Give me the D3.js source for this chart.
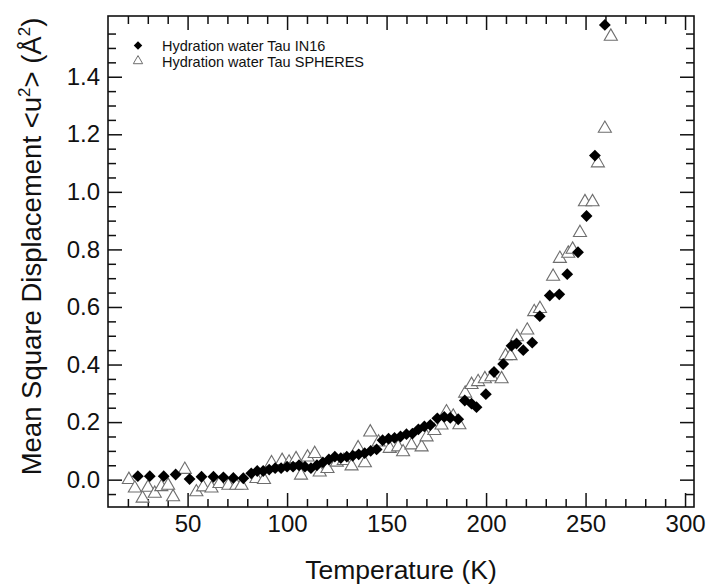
<!DOCTYPE html>
<html>
<head>
<meta charset="utf-8">
<script src="https://cdn.jsdelivr.net/npm/d3@7"></script>
<style>
  body { margin: 0; background: #fff; }
  text { font-family: "Liberation Sans", Arial, Helvetica, sans-serif; fill: #111; }
</style>
</head>
<body>
<div id="chart"></div>
<script>
// IN16 series (filled diamonds)
var in16Temp = [25, 31, 38, 44, 51, 57, 63, 68, 73, 78, 82, 85, 88, 91, 94, 97, 100, 103, 106, 109,
  112, 115, 118, 121, 124, 127, 130, 133, 136, 139, 142, 145, 148, 151, 154, 157, 160, 163, 166,
  169, 172, 175.5, 179, 182, 186, 189.3, 192.7, 195.2, 199.9, 204, 208.6, 212.8, 215.3, 218.7,
  223.2, 227, 232, 236.8, 240.8, 246.2, 250.5, 254.7, 259.7];
var in16Msd = [0.012, 0.012, 0.012, 0.018, 0.002, 0.01, 0.01, 0.008, 0.006, 0.005, 0.022, 0.03, 0.03,
  0.035, 0.04, 0.04, 0.045, 0.045, 0.05, 0.045, 0.04, 0.05, 0.06, 0.07, 0.08, 0.075, 0.08, 0.083,
  0.088, 0.092, 0.1, 0.105, 0.137, 0.142, 0.145, 0.15, 0.158, 0.16, 0.175, 0.185, 0.19, 0.213,
  0.218, 0.215, 0.21, 0.275, 0.264, 0.252, 0.297, 0.374, 0.402, 0.465, 0.473, 0.45, 0.476, 0.568,
  0.64, 0.644, 0.714, 0.79, 0.916, 1.126, 1.58];

// SPHERES series (open triangles)
var spheresTemp = [20.5, 23.5, 27.4, 30.1, 33.5, 36.8, 40.2, 42.7, 48.6, 54.4, 57.8, 62, 66, 70.5,
  74.5, 77.1, 84.6, 88.4, 92.2, 97.5, 101, 104.5, 107, 110.3, 113.9, 116.4, 120.3, 125, 128.5,
  132.4, 135.7, 139.1, 141.8, 146, 151.6, 155.8, 158.3, 162.5, 167.6, 170.1, 174, 177.6, 180.1,
  183.5, 186.6, 189.5, 192.7, 196, 199.4, 202.7, 207.8, 209.8, 212.3, 215.5, 220.7, 224.2, 227.1,
  233.7, 237.1, 241.3, 243.5, 247.2, 249.7, 253.5, 256.2, 259.7, 262.7];
var spheresMsd = [0.0, -0.03, -0.065, -0.027, -0.048, -0.025, -0.02, -0.06, 0.035, -0.043, -0.026,
  -0.03, -0.014, -0.02, -0.02, -0.02, 0.003, 0.0, 0.058, 0.066, 0.06, 0.072, 0.015, 0.078, 0.09,
  0.026, 0.038, 0.06, 0.066, 0.047, 0.11, 0.058, 0.165, 0.13, 0.108, 0.113, 0.096, 0.12, 0.113,
  0.148, 0.17, 0.189, 0.235, 0.22, 0.19, 0.3, 0.33, 0.34, 0.35, 0.357, 0.35, 0.43, 0.43, 0.496,
  0.519, 0.583, 0.594, 0.706, 0.768, 0.786, 0.8, 0.858, 0.965, 0.965, 1.1, 1.22, 1.54];

var xTicks = [50, 100, 150, 200, 250, 300];
var yTicks = [0.0, 0.2, 0.4, 0.6, 0.8, 1.0, 1.2, 1.4];
var legendNames = ["Hydration water Tau IN16", "Hydration water Tau SPHERES"];

// set the dimensions and margins of the graph
var margin = {top: 16, right: 15, bottom: 79, left: 108},
    width = 709 - margin.left - margin.right,
    height = 586 - margin.top - margin.bottom;

// set the ranges
var x = d3.scaleLinear().domain([10, 304.5]).range([0, width]);
var y = d3.scaleLinear().domain([-0.095, 1.611]).range([height, 0]);

var svg = d3.select("#chart").append("svg")
    .attr("width", width + margin.left + margin.right)
    .attr("height", height + margin.top + margin.bottom)
  .append("g")
    .attr("transform", "translate(" + margin.left + "," + margin.top + ")");

var xMinor = d3.range(20, 301, 10).filter(function(d) { return xTicks.indexOf(d) < 0; });
var yMinor = d3.range(-0.05, 1.6, 0.05).filter(function(d) {
  return yTicks.every(function(t) { return Math.abs(t - d) > 1e-6; });
});

// axes: ticks point inward on all four sides
function drawAxis(axis, tx, ty) {
  var g = svg.append("g")
      .attr("transform", "translate(" + tx + "," + ty + ")")
      .call(axis);
  g.select(".domain").remove();
  g.selectAll(".tick line").attr("stroke", "#111").attr("stroke-width", 1.5);
  g.selectAll("text").style("font-size", "24px").attr("fill", "#111");
  return g;
}

drawAxis(d3.axisBottom(x).tickValues(xTicks).tickSize(-14).tickPadding(8).tickFormat(d3.format("d")), 0, height);
drawAxis(d3.axisBottom(x).tickValues(xMinor).tickSize(-8).tickFormat(""), 0, height);
drawAxis(d3.axisTop(x).tickValues(xTicks).tickSize(-14).tickFormat(""), 0, 0);
drawAxis(d3.axisTop(x).tickValues(xMinor).tickSize(-8).tickFormat(""), 0, 0);
drawAxis(d3.axisLeft(y).tickValues(yTicks).tickSize(-14).tickPadding(8).tickFormat(d3.format(".1f")), 0, 0);
drawAxis(d3.axisLeft(y).tickValues(yMinor).tickSize(-8).tickFormat(""), 0, 0);
drawAxis(d3.axisRight(y).tickValues(yTicks).tickSize(-14).tickFormat(""), width, 0);
drawAxis(d3.axisRight(y).tickValues(yMinor).tickSize(-8).tickFormat(""), width, 0);

// frame
svg.append("rect")
    .attr("width", width)
    .attr("height", height)
    .attr("fill", "none")
    .attr("stroke", "#111")
    .attr("stroke-width", 1.6);

var triangle = d3.symbol().type(d3.symbolTriangle).size(74);
var diamond = d3.symbol().type(d3.symbolSquare).size(70);

// SPHERES triangles
var spheres = spheresTemp.map(function(t, i) { return {t: t, v: spheresMsd[i]}; });
svg.append("g").selectAll("path")
    .data(spheres)
  .enter().append("path")
    .attr("d", triangle)
    .attr("transform", function(d) { return "translate(" + x(d.t) + "," + y(d.v) + ")"; })
    .attr("fill", "#fff")
    .attr("stroke", "#6e6e6e")
    .attr("stroke-width", 1.1);

// IN16 diamonds
var in16 = in16Temp.map(function(t, i) { return {t: t, v: in16Msd[i]}; });
svg.append("g").selectAll("path")
    .data(in16)
  .enter().append("path")
    .attr("d", diamond)
    .attr("transform", function(d) { return "translate(" + x(d.t) + "," + y(d.v) + ") rotate(45)"; })
    .attr("fill", "#000");

// legend
var legend = svg.append("g").attr("transform", "translate(30,29.5)");
legend.append("path")
    .attr("d", d3.symbol().type(d3.symbolSquare).size(36))
    .attr("transform", "rotate(45)")
    .attr("fill", "#000");
legend.append("path")
    .attr("d", d3.symbol().type(d3.symbolTriangle).size(38))
    .attr("transform", "translate(0,15.5)")
    .attr("fill", "#fff")
    .attr("stroke", "#6e6e6e")
    .attr("stroke-width", 1);
legend.selectAll("text")
    .data(legendNames)
  .enter().append("text")
    .attr("x", 24)
    .attr("y", function(d, i) { return 5.5 + i * 16; })
    .style("font-size", "14.5px")
    .text(function(d) { return d; });

// axis titles
svg.append("text")
    .attr("x", width / 2)
    .attr("y", height + 72)
    .attr("text-anchor", "middle")
    .style("font-size", "26.5px")
    .text("Temperature (K)");

var yTitle = svg.append("text")
    .attr("transform", "translate(-67," + (height / 2 - 15) + ") rotate(-90)")
    .attr("text-anchor", "middle")
    .style("font-size", "27.5px");
yTitle.append("tspan").text("Mean Square Displacement <u");
yTitle.append("tspan").attr("dy", -11).style("font-size", "17px").text("2");
yTitle.append("tspan").attr("dy", 11).text("> (Å");
yTitle.append("tspan").attr("dy", -11).style("font-size", "17px").text("2");
yTitle.append("tspan").attr("dy", 11).text(")");
</script>
</body>
</html>
